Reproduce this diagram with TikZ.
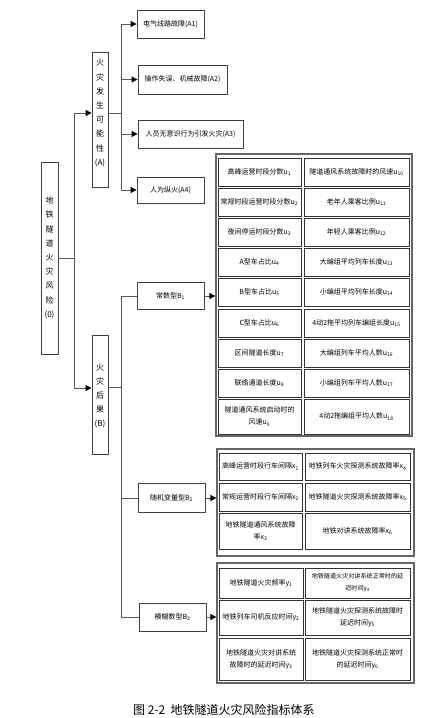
\documentclass[tikz,border=0pt]{standalone}
\usepackage{fontspec}
\setmainfont{Noto Sans CJK SC}
\usetikzlibrary{arrows.meta}
\newcommand\cellfont{\fontsize{7}{12}\selectfont}
\newcommand\smallcellfont{\fontsize{6.1}{12}\selectfont}
\newcommand\vertfont{\fontsize{8}{14.2}\selectfont}
\newcommand\capfont{\fontsize{12}{14}\selectfont}
\newcommand\sub[1]{\textsubscript{#1}}
\begin{document}
\begin{tikzpicture}[x=1pt,y=-1pt,
  box/.style={draw=black!75,line width=0.9pt,fill=white,inner sep=1pt,font=\cellfont,align=center},
  vbox/.style={draw=black!75,line width=0.9pt,fill=white,inner sep=0pt},
  vt/.style={inner sep=0pt,font=\vertfont,align=center},
  outer/.style={draw=black!60,line width=1.3pt,fill=white,inner sep=0pt},
  cell/.style={draw=black!80,line width=0.8pt,inner sep=1pt,font=\cellfont,align=center},
  ln/.style={draw=black!65,line width=1pt},
  arr/.style={ln,-{Triangle[length=6pt,width=6pt,color=black]}}]
\useasboundingbox (0,0) rectangle (437,718);
\fill[white] (0,0) rectangle (437,718);

% level 0 and 1
\node[vbox,minimum width=17,minimum height=192] (root) at (49.5,258) {};
\node[vt] (roottxt) at (49.5,258) {地\\铁\\隧\\道\\火\\灾\\风\\险\\(0)};
\node[vbox,minimum width=16,minimum height=135] (A) at (100,119.5) {};
\node[vt] (Atxt) at (100,113) {火\\灾\\发\\生\\可\\能\\性\\(A)};
\node[vbox,minimum width=16,minimum height=119] (B) at (100,394.5) {};
\node[vt] (Btxt) at (100,396) {火\\灾\\后\\果\\(B)};

% A children
\node[box,minimum width=67,minimum height=28] (A1) at (170.5,24) {电气线路故障(A1)};
\node[box,minimum width=89,minimum height=29] (A2) at (182.5,79.5) {操作失误、机械故障(A2)};
\node[box,minimum width=105,minimum height=28] (A3) at (190.5,134) {人员无意识行为引发火灾(A3)};
\node[box,minimum width=67,minimum height=26] (A4) at (170.5,190) {人为纵火(A4)};

% B children
\node[box,minimum width=67,minimum height=27] (B1) at (170.5,296) {常数型B\sub{1}};
\node[box,minimum width=67,minimum height=29] (B2) at (171.5,498) {随机变量型B\sub{2}};
\node[box,minimum width=67,minimum height=28] (B3) at (172.5,617) {模糊数型B\sub{3}};

% connectors level 0
\coordinate (jA) at (74,113);
\coordinate (jB) at (74,388);
\draw[ln] (root.east) -- (root.east -| jA);
\draw[ln] (jA) -- (jB);
\draw[arr] (jA) -- (A.west |- jA);
\draw[arr] (jB) -- (B.west |- jB);

% connectors A
\coordinate (kA) at (121,113);
\draw[ln] (A.east |- kA) -- (kA);
\draw[ln] (kA |- A1) -- (kA |- A4);
\draw[arr] (kA |- A1) -- (A1.west);
\draw[arr] (kA |- A2) -- (A2.west);
\draw[arr] (kA |- A3) -- (A3.west);
\draw[arr] (kA |- A4) -- (A4.west);

% connectors B
\coordinate (kB) at (121,387);
\draw[ln] (B.east |- kB) -- (kB);
\draw[ln] (kB |- B1) -- (kB |- B3);
\draw[ln] (kB |- B1) -- (B1.west);
\draw[ln] (kB |- B2) -- (B2.west);
\draw[ln] (kB |- B3) -- (B3.west);

% table 1
\node[outer,minimum width=196,minimum height=282] (T1) at (314,295) {};
\foreach \n/\cy/\h/\ta/\tb in {
  1/172/28/{高峰运营时段分数u\sub{1}}/{隧道通风系统故障时的风速u\sub{10}},
  2/202/28/{常规时段运营时段分数u\sub{2}}/{老年人乘客比例u\sub{11}},
  3/232/28/{夜间停运时段分数u\sub{3}}/{年轻人乘客比例u\sub{12}},
  4/262/28/{A型车占比u\sub{4}}/{大编组平均列车长度u\sub{13}},
  5/292/28/{B型车占比u\sub{5}}/{小编组平均列车长度u\sub{14}},
  6/323/28/{C型车占比u\sub{6}}/{4动2拖平均列车编组长度u\sub{15}},
  7/353/28/{区间隧道长度u\sub{7}}/{大编组列车平均人数u\sub{16}},
  8/383/28/{联络通道长度u\sub{8}}/{小编组列车平均人数u\sub{17}},
  9/416.5/35/{隧道通风系统启动时的\\风速u\sub{9}}/{4动2拖编组平均人数u\sub{18}}}{
  \node[cell,minimum width=83,minimum height=\h] (u\n a) at (259.5,\cy) {\ta};
  \node[cell,minimum width=105,minimum height=\h] (u\n b) at (356.5,\cy) {\tb};
}
\draw[arr] (B1.east) -- (T1.west |- B1);

% table 2
\node[outer,minimum width=197,minimum height=107] (T2) at (315.5,502.5) {};
\foreach \n/\cy/\h/\ta/\tb in {
  1/466.5/27/{高峰运营时段行车间隔x\sub{1}}/{地铁列车火灾探测系统故障率x\sub{4}},
  2/497/28/{常规运营时段行车间隔x\sub{2}}/{地铁隧道火灾探测系统故障率x\sub{5}},
  3/531/36/{地铁隧道通风系统故障\\率x\sub{3}}/{地铁对讲系统故障率x\sub{6}}}{
  \node[cell,minimum width=83,minimum height=\h] (x\n a) at (260.5,\cy) {\ta};
  \node[cell,minimum width=105,minimum height=\h] (x\n b) at (357.5,\cy) {\tb};
}
\draw[arr] (B2.east) -- (T2.west |- B2);

% table 3
\node[outer,minimum width=197,minimum height=120] (T3) at (315.5,623) {};
\foreach \n/\cy/\h/\ta/\tb in {
  1/583/30/{地铁隧道火灾频率y\sub{1}}/{\smallcellfont 地铁隧道火灾对讲系统正常时的延\\\smallcellfont 迟时间y\sub{4}},
  2/617.5/35/{地铁列车司机反应时间y\sub{2}}/{地铁隧道火灾探测系统故障时\\延迟时间y\sub{5}},
  3/659/42/{地铁隧道火灾对讲系统\\故障时的延迟时间y\sub{3}}/{地铁隧道火灾探测系统正常时\\的延迟时间y\sub{6}}}{
  \node[cell,minimum width=84,minimum height=\h] (y\n a) at (261,\cy) {\ta};
  \node[cell,minimum width=105,minimum height=\h] (y\n b) at (357.5,\cy) {\tb};
}
\draw[arr] (B3.east) -- (T3.west |- B3);

% caption
\node[inner sep=0pt,font=\capfont,anchor=west] (cap) at (133,710) {图 2-2\ \ 地铁隧道火灾风险指标体系};
\end{tikzpicture}
\end{document}
